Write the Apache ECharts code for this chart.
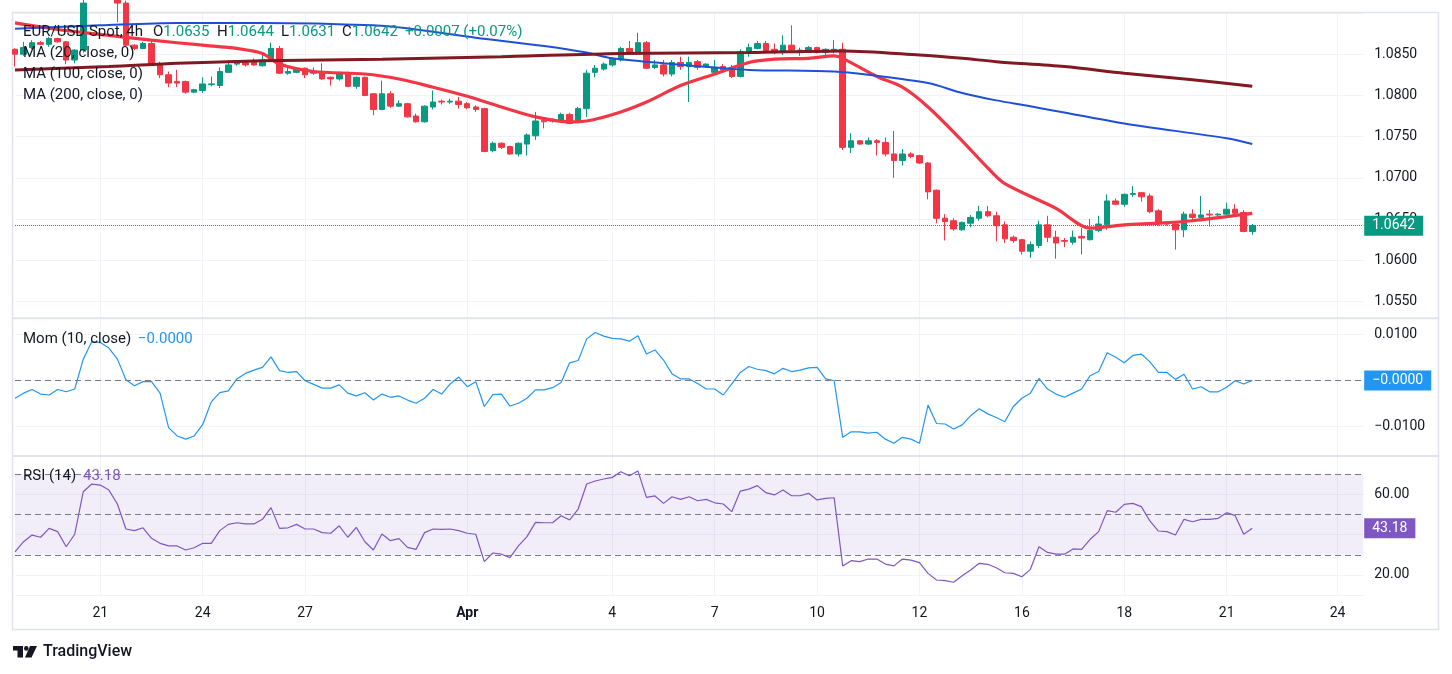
<!DOCTYPE html>
<html lang="en">
<head>
<meta charset="utf-8">
<script src="https://cdn.jsdelivr.net/npm/echarts/dist/echarts.min.js"></script>
<style>
  html, body { margin: 0; padding: 0; background: #fff; }
  #main { width: 1452px; height: 674px; }
</style>
</head>
<body>
<div id="main"></div>
<script>
// EUR/USD 4h candles
var opens = [
  1.0856,1.0850,1.0858,1.0864,1.0862,1.0869,1.0865,1.0843,1.0855,1.0912,
  1.0920,1.0932,1.0925,1.0912,1.0861,1.0857,1.0863,1.0837,1.0825,1.0817,
  1.0817,1.0804,1.0806,1.0813,1.0812,1.0828,1.0838,1.0840,1.0841,1.0836,
  1.0842,1.0857,1.0827,1.0828,1.0833,1.0827,1.0829,1.0822,1.0820,1.0827,
  1.0811,1.0822,1.0802,1.0783,1.0802,1.0787,1.0790,1.0775,1.0768,1.0786,
  1.0793,1.0792,1.0793,1.0790,1.0786,1.0784,1.0733,1.0742,1.0738,1.0729,
  1.0741,1.0751,1.0770,1.0769,1.0769,1.0777,1.0768,1.0784,1.0828,1.0832,
  1.0837,1.0843,1.0857,1.0852,1.0864,1.0834,1.0837,1.0826,1.0840,1.0835,
  1.0841,1.0835,1.0828,1.0835,1.0834,1.0823,1.0851,1.0857,1.0863,1.0856,
  1.0852,1.0861,1.0854,1.0855,1.0858,1.0852,1.0855,1.0856,1.0737,1.0745,
  1.0741,1.0745,1.0743,1.0729,1.0721,1.0729,1.0727,1.0718,1.0685,1.0651,
  1.0648,1.0637,1.0645,1.0651,1.0659,1.0654,1.0643,1.0628,1.0625,1.0611,
  1.0618,1.0643,1.0628,1.0624,1.0622,1.0629,1.0625,1.0636,1.0643,1.0672,
  1.0668,1.0680,1.0682,1.0678,1.0660,1.0645,1.0644,1.0637,1.0656,1.0652,
  1.0656,1.0655,1.0656,1.0662,1.0658,1.0635
];
var closes = [
  1.0850,1.0858,1.0864,1.0862,1.0869,1.0865,1.0843,1.0855,1.0912,1.0920,
  1.0932,1.0925,1.0912,1.0861,1.0857,1.0863,1.0837,1.0825,1.0815,1.0815,
  1.0804,1.0807,1.0814,1.0814,1.0829,1.0837,1.0840,1.0837,1.0837,1.0843,
  1.0857,1.0827,1.0829,1.0833,1.0825,1.0829,1.0820,1.0820,1.0827,1.0811,
  1.0822,1.0800,1.0783,1.0802,1.0787,1.0790,1.0774,1.0768,1.0787,1.0792,
  1.0792,1.0793,1.0789,1.0785,1.0783,1.0732,1.0742,1.0737,1.0729,1.0742,
  1.0752,1.0769,1.0768,1.0771,1.0777,1.0766,1.0784,1.0827,1.0833,1.0838,
  1.0844,1.0857,1.0852,1.0864,1.0833,1.0837,1.0826,1.0840,1.0835,1.0840,
  1.0834,1.0838,1.0834,1.0831,1.0823,1.0853,1.0858,1.0863,1.0854,1.0852,
  1.0861,1.0855,1.0855,1.0858,1.0852,1.0856,1.0856,1.0737,1.0745,1.0741,
  1.0745,1.0743,1.0729,1.0721,1.0729,1.0726,1.0718,1.0683,1.0651,1.0647,
  1.0638,1.0646,1.0652,1.0659,1.0654,1.0642,1.0626,1.0624,1.0611,1.0619,
  1.0643,1.0628,1.0621,1.0623,1.0628,1.0627,1.0636,1.0644,1.0672,1.0668,
  1.0680,1.0681,1.0677,1.0659,1.0644,1.0644,1.0637,1.0656,1.0652,1.0655,
  1.0655,1.0656,1.0662,1.0657,1.0635,1.0642
];
var lows = [
  1.0835,1.0848,1.0856,1.0861,1.0859,1.0864,1.0838,1.0839,1.0852,1.0905,
  1.0915,1.0918,1.0889,1.0859,1.0855,1.0856,1.0836,1.0821,1.0810,1.0810,
  1.0802,1.0803,1.0803,1.0811,1.0809,1.0827,1.0836,1.0835,1.0836,1.0835,
  1.0841,1.0826,1.0825,1.0827,1.0821,1.0825,1.0819,1.0812,1.0818,1.0810,
  1.0808,1.0799,1.0776,1.0782,1.0785,1.0786,1.0773,1.0767,1.0767,1.0783,
  1.0789,1.0790,1.0784,1.0783,1.0780,1.0731,1.0731,1.0735,1.0728,1.0726,
  1.0727,1.0746,1.0760,1.0767,1.0767,1.0765,1.0766,1.0774,1.0822,1.0830,
  1.0835,1.0841,1.0851,1.0850,1.0832,1.0832,1.0823,1.0823,1.0831,1.0792,
  1.0831,1.0834,1.0825,1.0829,1.0821,1.0822,1.0847,1.0856,1.0853,1.0850,
  1.0849,1.0852,1.0848,1.0854,1.0851,1.0849,1.0851,1.0734,1.0730,1.0740,
  1.0740,1.0727,1.0726,1.0700,1.0715,1.0724,1.0717,1.0674,1.0645,1.0624,
  1.0636,1.0636,1.0640,1.0648,1.0652,1.0623,1.0621,1.0621,1.0607,1.0603,
  1.0615,1.0622,1.0602,1.0616,1.0619,1.0607,1.0624,1.0634,1.0637,1.0667,
  1.0665,1.0677,1.0671,1.0657,1.0642,1.0642,1.0613,1.0628,1.0647,1.0651,
  1.0641,1.0654,1.0655,1.0656,1.0634,1.0631
];
var highs = [
  1.0857,1.0865,1.0867,1.0866,1.0871,1.0870,1.0866,1.0856,1.0918,1.0925,
  1.0937,1.0942,1.0930,1.0915,1.0862,1.0865,1.0868,1.0841,1.0829,1.0831,
  1.0818,1.0808,1.0822,1.0823,1.0834,1.0843,1.0843,1.0842,1.0845,1.0851,
  1.0864,1.0860,1.0835,1.0834,1.0834,1.0834,1.0839,1.0823,1.0829,1.0829,
  1.0823,1.0823,1.0803,1.0818,1.0805,1.0794,1.0791,1.0778,1.0788,1.0806,
  1.0795,1.0796,1.0798,1.0792,1.0788,1.0785,1.0744,1.0743,1.0739,1.0743,
  1.0754,1.0780,1.0771,1.0772,1.0779,1.0779,1.0786,1.0831,1.0837,1.0840,
  1.0846,1.0859,1.0866,1.0876,1.0866,1.0843,1.0843,1.0843,1.0847,1.0847,
  1.0843,1.0839,1.0843,1.0838,1.0837,1.0856,1.0863,1.0866,1.0866,1.0863,
  1.0873,1.0885,1.0858,1.0860,1.0859,1.0857,1.0867,1.0864,1.0754,1.0746,
  1.0749,1.0747,1.0749,1.0757,1.0735,1.0731,1.0728,1.0719,1.0686,1.0656,
  1.0651,1.0647,1.0655,1.0666,1.0666,1.0659,1.0647,1.0630,1.0626,1.0623,
  1.0648,1.0654,1.0636,1.0627,1.0636,1.0639,1.0650,1.0654,1.0680,1.0675,
  1.0681,1.0690,1.0683,1.0681,1.0662,1.0647,1.0645,1.0659,1.0662,1.0678,
  1.0661,1.0657,1.0670,1.0668,1.0661,1.0644
];

// moving averages, read at the listed bar indices
var ma20Idx = [0,5,10,16,22,26,29,31,35,41,45,49,53,57,61,65,67,71,74,78,82,86,89,93,96,97,101,104,107,111,114,116,122,126,130,134,138,142,145];
var ma20Val = [1.0888,1.0880,1.0874,1.0867,1.0861,1.0857,1.0851,1.0838,1.0829,1.0826,1.0820,1.0810,1.0799,1.0786,1.0774,1.0768,1.0769,1.0780,1.0792,1.0812,1.0826,1.0840,1.0844,1.0845,1.0848,1.0845,1.0823,1.0810,1.0786,1.0745,1.0712,1.0693,1.0663,1.0639,1.0643,1.0645,1.0648,1.0653,1.0657];
var ma100Idx = [0,10,19,29,42,47,54,62,67,70,76,82,86,96,100,107,111,115,119,130,142,145];
var ma100Val = [1.0881,1.0885,1.0888,1.0888,1.0885,1.0880,1.0870,1.0860,1.0852,1.0845,1.0839,1.0834,1.0831,1.0829,1.0825,1.0815,1.0803,1.0794,1.0787,1.0766,1.0748,1.0741];
var ma200Idx = [0,11,19,29,43,57,71,86,97,106,111,115,123,130,138,145];
var ma200Val = [1.0831,1.0835,1.0839,1.0842,1.0844,1.0847,1.0851,1.0852,1.0854,1.0849,1.0845,1.0841,1.0835,1.0827,1.0819,1.0811];

// Mom (10, close)
var momVals = [
  -0.0039,-0.0028,-0.0020,-0.0030,-0.0032,-0.0020,-0.0025,-0.0019,0.0046,0.0084,
  0.0082,0.0070,0.0046,0.0001,-0.0012,-0.0003,-0.0003,-0.0028,-0.0103,-0.0121,
  -0.0128,-0.0121,-0.0096,-0.0047,-0.0027,-0.0023,0.0003,0.0015,0.0022,0.0028,
  0.0051,0.0021,0.0017,0.0019,-0.0001,-0.0009,-0.0017,-0.0017,-0.0010,-0.0028,
  -0.0034,-0.0027,-0.0043,-0.0030,-0.0037,-0.0034,-0.0043,-0.0050,-0.0039,-0.0020,
  -0.0030,-0.0008,0.0007,-0.0014,-0.0003,-0.0057,-0.0031,-0.0030,-0.0056,-0.0050,
  -0.0039,-0.0021,-0.0021,-0.0016,-0.0005,0.0038,0.0043,0.0090,0.0104,0.0096,
  0.0091,0.0090,0.0085,0.0097,0.0057,0.0066,0.0044,0.0014,0.0003,0.0003,
  -0.0007,-0.0019,-0.0019,-0.0032,-0.0008,0.0017,0.0030,0.0024,0.0021,0.0014,
  0.0026,0.0019,0.0022,0.0027,0.0028,0.0003,-0.0001,-0.0124,-0.0112,-0.0112,
  -0.0115,-0.0113,-0.0128,-0.0137,-0.0124,-0.0128,-0.0137,-0.0054,-0.0094,-0.0095,
  -0.0106,-0.0097,-0.0077,-0.0062,-0.0073,-0.0081,-0.0090,-0.0057,-0.0039,-0.0028,
  0.0004,-0.0019,-0.0030,-0.0037,-0.0028,-0.0019,0.0010,0.0019,0.0060,0.0050,
  0.0038,0.0054,0.0057,0.0040,0.0017,0.0017,0.0002,0.0013,-0.0019,-0.0014,
  -0.0025,-0.0025,-0.0015,-0.0001,-0.0008,-0.00002
];

// RSI (14)
var rsiVals = [
  31.5,36.5,39.8,38.7,43.1,41.5,34.0,40.2,61.3,65.1,
  64.6,62.1,55.2,42.8,42.0,43.4,38.2,35.7,34.4,34.4,
  32.4,33.5,35.7,35.7,42.0,45.1,45.9,45.3,45.3,47.6,
  53.4,43.1,43.4,45.1,42.8,42.8,41.0,40.7,44.4,38.7,
  43.6,36.5,32.4,40.3,37.0,38.0,33.7,32.7,41.0,42.8,
  42.6,42.8,42.0,40.7,40.2,26.6,30.9,30.3,28.6,34.4,
  39.0,46.1,45.9,45.9,49.4,47.3,52.7,65.1,66.6,67.6,
  68.4,71.2,69.2,71.6,58.5,59.2,55.5,58.8,57.5,58.8,
  56.8,57.5,55.8,55.2,51.4,61.6,62.6,64.3,60.8,59.7,
  62.1,59.3,59.3,60.5,57.2,58.0,58.3,24.5,27.1,26.6,
  27.9,27.9,25.4,24.5,27.9,27.4,26.1,20.8,17.5,17.2,
  16.4,19.6,22.5,25.8,25.3,23.6,21.1,20.8,19.1,22.8,
  34.0,31.2,30.3,30.3,32.9,32.7,37.7,41.5,51.9,51.1,
  55.0,55.5,53.9,46.8,41.8,41.5,39.8,47.6,46.4,47.6,
  47.6,48.1,50.9,49.4,40.2,43.18
];

// date ticks (bar index -> label)
var tickIdx = [10,22,34,53,70,82,94,106,118,130,142,155];
var tickText = ['21','24','27','Apr','4','7','10','12','16','18','21','24'];

var rsiLevels = [70, 50, 30];
var slotCount = 159;

var GREEN = '#089981', RED = '#f23645', TXT = '#131722', GRID = '#f0f3fa', DASH = '#787b86';
var FONT = 'Roboto, "Noto Sans", sans-serif';

var cats = [];
for (var i = 0; i < slotCount; i++) cats.push(String(i));

var candleData = [];
for (var i = 0; i < closes.length; i++) {
  candleData.push([opens[i], closes[i], lows[i], highs[i]]);
}

function sparse(idx, val) {
  var a = [];
  for (var i = 0; i < slotCount; i++) a.push(null);
  for (var k = 0; k < idx.length; k++) a[idx[k]] = val[k];
  return a;
}

function isTick(index) { return tickIdx.indexOf(index) >= 0; }
function fmtSigned(v) { return (v < 0 ? '\u2212' : '') + Math.abs(v).toFixed(4); }

var last = closes.length - 1;
var lastClose = closes[last];
var lastMom = momVals[momVals.length - 1];
var lastRsi = rsiVals[rsiVals.length - 1];
var chg = closes[last] - closes[last - 1];
var chgPct = chg / closes[last - 1] * 100;

var gridL = 15, gridR = 88.8;

function xAx(gi, showLabels) {
  return {
    type: 'category', gridIndex: gi, data: cats, boundaryGap: false,
    axisLine: { show: false }, axisTick: { show: false },
    splitLine: { show: true, interval: function (i) { return isTick(i); }, lineStyle: { color: GRID, width: 1 } },
    axisLabel: {
      show: showLabels, interval: function (i) { return isTick(i); }, margin: 11,
      color: TXT, fontSize: 14, fontFamily: FONT,
      formatter: function (v) {
        var k = tickIdx.indexOf(Number(v));
        if (k < 0) return '';
        return tickText[k] === 'Apr' ? '{b|Apr}' : tickText[k];
      },
      rich: { b: { fontWeight: 'bold', fontSize: 14, color: TXT, fontFamily: FONT } }
    }
  };
}

function yAx(gi, min, max, split, fmt) {
  return {
    type: 'value', gridIndex: gi, position: 'right', min: min, max: max, splitNumber: split,
    axisLine: { show: false }, axisTick: { show: false },
    splitLine: { show: true, lineStyle: { color: GRID, width: 1 } },
    axisLabel: { color: TXT, fontSize: 14, fontFamily: FONT, margin: 11, showMinLabel: false, showMaxLabel: false, formatter: fmt }
  };
}

// coloured value box on the right axis, with an optional line across the pane
function valueTag(value, text, bg, line) {
  return {
    yAxis: value,
    lineStyle: line || { color: 'rgba(0,0,0,0)', width: 0 },
    label: {
      show: true, position: 'end', distance: 1, formatter: text,
      backgroundColor: bg, color: '#fff', padding: [3, 8, 3, 8],
      fontSize: 14, fontFamily: FONT
    }
  };
}

function txt(x, y, text, fill, extra) {
  var s = { x: x, y: y, text: text, fill: fill, font: '15px ' + FONT, verticalAlign: 'middle' };
  if (extra) for (var k in extra) s[k] = extra[k];
  return { type: 'text', z: 100, silent: true, style: s };
}

function ohlc(x, key, val) {
  return txt(x, 32.7, '{k|' + key + '}{v|' + val + '}', TXT, {
    rich: { k: { fill: TXT, font: '15px ' + FONT }, v: { fill: GREEN, font: '15px ' + FONT } }
  });
}

var option = {
  animation: false,
  backgroundColor: '#fff',
  textStyle: { fontFamily: FONT },
  grid: [
    { left: gridL, right: gridR, top: 13, height: 305 },
    { left: gridL, right: gridR, top: 318, height: 138 },
    { left: gridL, right: gridR, top: 456, height: 139 }
  ],
  xAxis: [xAx(0, false), xAx(1, false), xAx(2, true)],
  yAxis: [
    yAx(0, 1.0530, 1.0900, 7, function (v) { return v.toFixed(4); }),
    yAx(1, -0.01646, 0.01354, 3, function (v) { return fmtSigned(v); }),
    yAx(2, 10.07, 79.0, 3, function (v) { return v.toFixed(2); })
  ],
  series: [
    {
      type: 'candlestick', xAxisIndex: 0, yAxisIndex: 0, data: candleData, barWidth: 6, clip: true,
      itemStyle: { color: GREEN, color0: RED, borderColor: GREEN, borderColor0: RED, borderWidth: 1 }
    },
    {
      type: 'line', xAxisIndex: 0, yAxisIndex: 0, data: sparse(ma20Idx, ma20Val), connectNulls: true,
      smooth: 0.3, showSymbol: false, lineStyle: { color: RED, width: 3.2 }, z: 3,
      markLine: {
        silent: true, symbol: ['none', 'none'], animation: false, precision: 6,
        data: [valueTag(lastClose, lastClose.toFixed(4), GREEN, { color: GREEN, type: 'dotted', width: 1 })]
      }
    },
    {
      type: 'line', xAxisIndex: 0, yAxisIndex: 0, data: sparse(ma100Idx, ma100Val), connectNulls: true,
      smooth: 0.3, showSymbol: false, lineStyle: { color: '#1f4fd6', width: 2 }, z: 3
    },
    {
      type: 'line', xAxisIndex: 0, yAxisIndex: 0, data: sparse(ma200Idx, ma200Val), connectNulls: true,
      smooth: 0.3, showSymbol: false, lineStyle: { color: '#801922', width: 3 }, z: 3
    },
    {
      type: 'line', xAxisIndex: 1, yAxisIndex: 1, data: momVals, showSymbol: false,
      lineStyle: { color: '#2196f3', width: 1.2 },
      markLine: {
        silent: true, symbol: ['none', 'none'], animation: false, precision: 6,
        data: [
          { yAxis: 0, lineStyle: { color: DASH, type: [6, 4], width: 1 }, label: { show: false } },
          valueTag(lastMom, fmtSigned(lastMom), '#2196f3')
        ]
      }
    },
    {
      type: 'line', xAxisIndex: 2, yAxisIndex: 2, data: rsiVals, showSymbol: false,
      lineStyle: { color: '#7e57c2', width: 1.2 },
      markArea: {
        silent: true,
        itemStyle: { color: 'rgba(126,87,194,0.1)' },
        data: [[{ yAxis: rsiLevels[2] }, { yAxis: rsiLevels[0] }]]
      },
      markLine: {
        silent: true, symbol: ['none', 'none'], animation: false, precision: 4,
        data: rsiLevels.map(function (l) {
          return { yAxis: l, lineStyle: { color: DASH, type: [6, 4], width: 1 }, label: { show: false } };
        }).concat([valueTag(lastRsi, lastRsi.toFixed(2), '#7e57c2')])
      }
    }
  ],
  graphic: [
    { type: 'rect', z: 1, silent: true, shape: { x: 12.5, y: 12.5, width: 1426, height: 617 }, style: { fill: 'none', stroke: '#e0e3eb', lineWidth: 1.5 } },
    { type: 'line', z: 1, silent: true, shape: { x1: 12.5, y1: 318.3, x2: 1438.5, y2: 318.3 }, style: { stroke: '#e0e3eb', lineWidth: 2 } },
    { type: 'line', z: 1, silent: true, shape: { x1: 12.5, y1: 456, x2: 1438.5, y2: 456 }, style: { stroke: '#e0e3eb', lineWidth: 2 } },

    txt(23, 32.7, 'EUR/USD Spot, 4h', TXT),
    ohlc(153, 'O', opens[last].toFixed(4)),
    ohlc(217, 'H', highs[last].toFixed(4)),
    ohlc(281, 'L', lows[last].toFixed(4)),
    ohlc(342, 'C', closes[last].toFixed(4)),
    txt(405, 32.7, (chg >= 0 ? '+' : '\u2212') + Math.abs(chg).toFixed(4) + ' (' + (chg >= 0 ? '+' : '\u2212') + Math.abs(chgPct).toFixed(2) + '%)', GREEN),
    txt(23, 53.7, 'MA (20, close, 0)', TXT),
    txt(23, 74.7, 'MA (100, close, 0)', TXT),
    txt(23, 95.7, 'MA (200, close, 0)', TXT),
    txt(23, 339, 'Mom (10, close)', TXT),
    txt(138, 339, fmtSigned(lastMom), '#2196f3'),
    txt(23, 476.7, 'RSI (14)', TXT),
    txt(83, 476.7, lastRsi.toFixed(2), '#7e57c2'),

    // TradingView logo
    { type: 'polygon', z: 100, silent: true, shape: { points: [[13, 646], [23, 646], [23, 657.5], [17.5, 657.5], [17.5, 650.5], [13, 650.5]] }, style: { fill: TXT } },
    { type: 'circle', z: 100, silent: true, shape: { cx: 26.3, cy: 648.4, r: 2.3 }, style: { fill: TXT } },
    { type: 'polygon', z: 100, silent: true, shape: { points: [[30, 646], [37, 646], [31.5, 657.5], [25, 657.5]] }, style: { fill: TXT } },
    txt(43, 652, 'TradingView', TXT, { font: '500 16px ' + FONT })
  ]
};

var myChart = echarts.init(document.getElementById('main'));
myChart.setOption(option);
</script>
</body>
</html>
